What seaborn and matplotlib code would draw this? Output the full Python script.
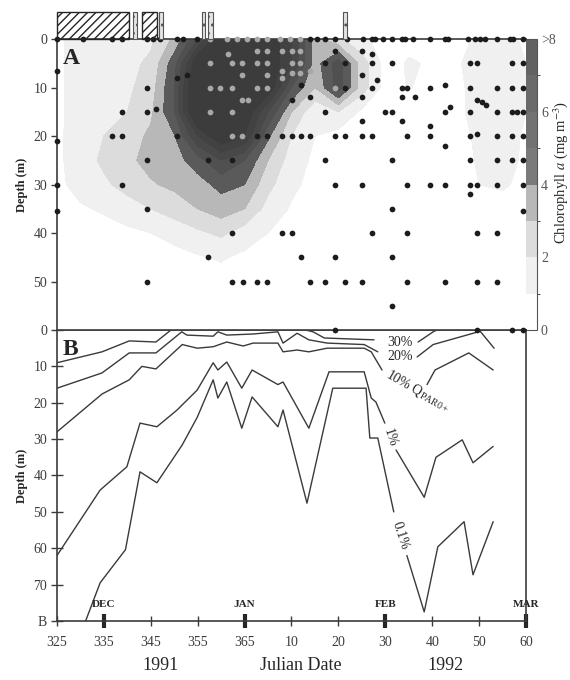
import numpy as np
import pandas as pd
import matplotlib
matplotlib.use("Agg")
import matplotlib.pyplot as plt
import matplotlib.transforms as mtransforms
from matplotlib.colors import ListedColormap, BoundaryNorm
from matplotlib.cm import ScalarMappable
from matplotlib.patches import Rectangle
import seaborn as sns

# ---------------- data ----------------
# chlorophyll field (mg m-3) on a day x depth grid
grid_days = [325, 330, 335, 340, 345, 350, 355, 360, 365, 370, 375,
             380, 385, 390, 395, 400, 405, 410, 415, 420, 425]
grid_depths = [0, 5, 10, 15, 20, 25, 30, 35, 40, 45, 50, 55, 60]
chl_0m  = [0.8, 1.4, 1.5, 1.6, 1.8, 3.2, 6.0, 9.0, 9.0, 9.0, 7.0, 3.5, 2.2, 1.2, 0.6, 0.7, 0.8, 0.8, 1.1, 1.2, 0.9]
chl_5m  = [0.8, 1.4, 1.5, 1.7, 2.2, 4.6, 9.0, 10., 10., 9.0, 7.0, 3.5, 5.5, 2.5, 0.6, 1.1, 0.9, 0.9, 1.3, 1.4, 1.0]
chl_10m = [0.8, 1.4, 1.5, 1.8, 2.5, 5.0, 10., 10., 10., 9.0, 5.0, 3.0, 5.5, 2.5, 0.6, 1.05, 0.7, 0.8, 1.3, 1.4, 1.0]
chl_15m = [0.8, 1.4, 1.6, 2.0, 2.8, 5.0, 10., 10., 9.0, 6.0, 3.0, 1.2, 2.0, 0.8, 0.5, 0.5, 0.6, 0.8, 1.3, 1.5, 1.0]
chl_20m = [0.8, 1.5, 2.0, 2.5, 3.2, 3.9, 7.0, 9.0, 8.0, 4.2, 2.0, 1.0, 0.6, 0.5, 0.5, 0.5, 0.5, 0.6, 1.2, 1.3, 0.9]
chl_25m = [0.8, 1.5, 2.2, 2.8, 3.3, 3.6, 4.5, 6.0, 5.0, 3.0, 1.5, 0.8, 0.5, 0.5, 0.5, 0.5, 0.5, 0.6, 1.1, 1.2, 0.9]
chl_30m = [0.8, 1.3, 1.8, 2.4, 2.9, 3.2, 3.6, 4.3, 4.0, 2.3, 1.2, 0.7, 0.5, 0.5, 0.5, 0.5, 0.5, 0.5, 1.0, 1.1, 0.8]
chl_35m = [0.7, 0.9, 1.1, 1.5, 2.0, 2.5, 3.0, 3.5, 3.0, 1.6, 0.9, 0.6, 0.5, 0.5, 0.5, 0.5, 0.5, 0.5, 0.6, 0.7, 0.6]
chl_40m = [0.5, 0.6, 0.7, 0.8, 1.0, 1.3, 1.8, 2.2, 1.5, 1.0, 0.6, 0.5, 0.5, 0.5, 0.5, 0.5, 0.5, 0.5, 0.5, 0.5, 0.5]
chl_45m = [0.5, 0.5, 0.5, 0.5, 0.6, 0.7, 0.9, 1.1, 0.8, 0.6, 0.5, 0.5, 0.5, 0.5, 0.5, 0.5, 0.5, 0.5, 0.5, 0.5, 0.5]
chl_50m = [0.5, 0.5, 0.5, 0.5, 0.5, 0.5, 0.5, 0.6, 0.6, 0.7, 0.5, 0.5, 0.5, 0.5, 0.5, 0.5, 0.5, 0.5, 0.5, 0.5, 0.5]
chl_55m = [0.5, 0.5, 0.5, 0.5, 0.5, 0.5, 0.5, 0.5, 0.5, 0.5, 0.5, 0.5, 0.5, 0.5, 0.5, 0.5, 0.5, 0.5, 0.5, 0.5, 0.5]
chl_60m = [0.5, 0.5, 0.5, 0.5, 0.5, 0.5, 0.5, 0.5, 0.5, 0.5, 0.5, 0.5, 0.5, 0.5, 0.5, 0.5, 0.5, 0.5, 0.5, 0.5, 0.5]

chl_levels = [0, 1, 2, 3, 4, 5, 6, 7, 8, 100]
chl_colors = ['#ffffff', '#f0f0f0', '#dcdcdc', '#b8b8b8',
              '#5a5a5a', '#505050', '#484848', '#424242', '#3c3c3c']
cbar_colors = ['#ffffff', '#f0f0f0', '#dcdcdc', '#b8b8b8',
               '#7a7a7a', '#727272', '#6a6a6a', '#626262']
cbar_ticks = [0, 2, 4, 6, 8]
cbar_labels = ['0', '2', '4', '6', '>8']

# sampling casts (black dots): day and depths sampled
cast_days = [325.0, 336.7, 338.9, 344.2, 346.2, 350.6, 352.7, 357.3, 362.3, 364.6,
             367.6, 369.8, 373.0, 375.1, 377.0, 379.0, 382.1, 384.3, 386.4, 390.0,
             392.2, 393.2, 394.9, 396.4, 398.6, 399.6, 401.3, 404.5, 407.7, 408.8,
             413.1, 414.6, 415.6, 416.5, 418.8, 422.0, 423.1, 424.4]
cast_depths = [[6.5, 21, 30, 35.5], [20], [15, 20, 30], [10, 15, 25, 35, 50], [14.5],
               [8, 20], [7.5], [25, 45], [25, 40, 50], [50],
               [20, 50], [20, 50], [20, 40], [12.5, 20, 40], [9.5, 20, 45],
               [12, 20, 50], [5, 15, 25, 50], [2.5, 20, 30, 45, 60], [5, 10, 20, 50],
               [2.5, 7.5, 12, 17, 20, 30, 50],
               [3, 5, 10, 20, 40], [8.5], [15], [5, 15, 25, 35, 45, 55], [10, 12, 17],
               [10, 20, 30, 40, 50], [12], [10, 18, 20, 30], [9.5, 15, 22, 30, 50], [14],
               [5, 10, 15, 20, 25, 30, 32], [5, 12.5, 19.5, 30, 40, 50, 60], [13], [13.5],
               [10, 15, 20, 25, 30, 40, 50], [5, 10, 15, 20, 25, 60], [15],
               [5, 10, 15, 20, 25, 30, 35.5, 60]]
# samples inside the bloom (grey dots)
bloom_days = [357.6, 359.8, 361.5, 362.3, 364.4, 365.7, 367.6, 369.8, 373.0, 375.1,
              376.9, 378.9, 384.3]
bloom_depths = [[5, 10, 15], [10], [3], [5, 10, 15, 20], [5, 7.5, 12.5, 20], [12.5],
                [2.5, 5, 10], [2.5, 5, 7.5, 10], [2.5, 6.5, 8], [2.5, 5, 7],
                [2.5, 5, 7], [6.5], [10]]
# surface samples
surface_days = [325, 330.5, 336.7, 338.9, 344.2, 345.5, 347, 350.6, 351.9, 354.9,
                378.9, 380.4, 382.1, 384.3, 386.8, 390.2, 392.2, 392.8, 394.5, 396.4,
                398.6, 399.2, 400.9, 404.5, 407.7, 408.4, 412.6, 414.1, 415.2, 416.3,
                418.8, 421.6, 422.2, 424.4]
surface_bloom_days = [357.6, 361.2, 363.4, 365.5, 367.6, 369.8, 372.5, 374.7, 376.8]

# ice / event bars above panel A
ice_start = [325.0, 343.1]
ice_end = [340.4, 346.3]
event_start = [341.2, 346.7, 355.9, 357.2, 386.0]
event_end = [342.1, 347.6, 356.6, 358.3, 386.8]

# light-level isolines (depth of % surface PAR); None = gap
q30_days = [325, 334.6, 340.4, 346.1, 349.3, None, 378.0, 379.6, 382.0, 392.6, None, 402.0, 405.2, 406.0]
q30_depth = [9, 6, 3, 3.3, 0, None, 0, 0.5, 2.2, 2.7, None, 3.3, 0.5, 0]
q20_days = [325, 334.6, 340.4, 346.1, 351.6, 352.7, 358.3, 359.3, 361.2, 366.8, 372.1, 373.2,
            376.2, 378.7, 382.6, 390.5, 393.4, None, 401.8, 405.2, 414.0, 415.2, 418.2]
q20_depth = [16, 11.8, 6.3, 6.3, 0.5, 1.4, 1.7, 0.5, 1.4, 1.1, 0.5, 3.6,
             0.9, 2.7, 3.6, 4.0, 6.0, None, 7.4, 4.0, 0.8, 0.3, 5.0]
q10_days = [325, 334.6, 340.4, 343.1, 346.1, 351.7, 354.9, 358.3, 361.2, 364.7, 366.8, 372.1,
            373.2, 376.2, 378.7, 382.6, 390.5, 392.0, 394.3, None, 403.9, 405.6, 412.8, 418.0]
q10_depth = [28, 17.6, 13.7, 10, 10.7, 4, 5, 4.6, 3.3, 4.4, 3.6, 3.6,
             6, 5.5, 6, 5, 5, 6, 11, None, 15, 11, 6.3, 11]
q1_days = [325, 334.2, 339.9, 342.7, 346.3, 350.6, 354.9, 358.3, 359.3, 361.2, 364.4, 366.6,
           372.1, 373.2, 378.7, 383.0, 390.5, 392.0, 393.0, 394.9, None, 397.3, 403.3,
           405.8, 411.4, 413.7, 418.0]
q1_depth = [62, 44, 37.6, 25.6, 26.6, 22, 16.5, 9, 11, 8.8, 16, 11,
            15, 14.3, 27, 11.5, 11.5, 18.7, 19.8, 25.6, None, 33, 46,
            35, 30.2, 36.5, 32]
q01_days = [331.1, 334.2, 339.6, 342.7, 346.3, 351.7, 354.9, 358.3, 359.3, 361.2, 364.4, 366.6,
            372.1, 373.2, 378.3, 383.8, 390.9, 391.7, 393.4, 396.8, None, 399.6, 403.3,
            406.2, 411.8, 413.7, 418.0]
q01_depth = [80, 69.5, 60.4, 39, 42, 31.6, 24, 13.7, 18.7, 14.3, 27, 18.4,
             26.6, 22, 47.6, 16, 16, 29.7, 29.7, 50, None, 62, 77.5,
             59.6, 52.7, 67.3, 52.7]

# axis ticks
month_ticks = [335, 365, 395, 425]
month_tick_labels = ['335', '365', '30', '60']
other_ticks = [325, 345, 355, 375, 385, 405, 415]
other_tick_labels = ['325', '345', '355', '10', '20', '40', '50']
month_names = ['DEC', 'JAN', 'FEB', 'MAR']
depth_ticks_a = [0, 10, 20, 30, 40, 50]
depth_ticks_b = [0, 10, 20, 30, 40, 50, 60, 70, 80]
depth_labels_b = ['0', '10', '20', '30', '40', '50', '60', '70', 'B']

# ---------------- style ----------------
sns.set_style('ticks')
plt.rcParams['font.family'] = ['Liberation Serif', 'DejaVu Serif']
plt.rcParams['mathtext.fontset'] = 'stix'
plt.rcParams['hatch.linewidth'] = 1.0
ink = '#262626'
tick_col = '#3c3c3c'

fig = plt.figure(figsize=(5.7, 6.8), dpi=100)
ax_a = fig.add_axes([0.1, 0.5147, 0.8228, 0.4279])
ax_b = fig.add_axes([0.1, 0.0868, 0.8228, 0.4279])
cax = fig.add_axes([0.919, 0.5147, 0.0228, 0.4279])
ax_a.set_zorder(3)
ax_b.set_zorder(2)
cax.set_zorder(1)

# ---------------- panel A ----------------
chl = np.array([chl_0m, chl_5m, chl_10m, chl_15m, chl_20m, chl_25m, chl_30m,
                chl_35m, chl_40m, chl_45m, chl_50m, chl_55m, chl_60m])
X, Y = np.meshgrid(grid_days, grid_depths)
ax_a.contourf(X, Y, chl, levels=chl_levels, colors=chl_colors, zorder=1)

black_df = pd.DataFrame(
    [(d, z) for d, zs in zip(cast_days, cast_depths) for z in zs] +
    [(d, 0.0) for d in surface_days], columns=['day', 'depth'])
grey_df = pd.DataFrame(
    [(d, z) for d, zs in zip(bloom_days, bloom_depths) for z in zs] +
    [(d, 0.0) for d in surface_bloom_days], columns=['day', 'depth'])
sns.scatterplot(data=black_df, x='day', y='depth', ax=ax_a, color='#1c1c1c',
                s=17, linewidth=0, clip_on=False, zorder=5)
sns.scatterplot(data=grey_df, x='day', y='depth', ax=ax_a, color='#a8a8a8',
                s=17, linewidth=0, clip_on=False, zorder=5)

ax_a.set_xlim(325, 425)
ax_a.set_ylim(60, 0)
ax_a.set_xlabel('')
ax_a.set_ylabel('Depth (m)', fontsize=9, fontweight='bold', labelpad=4)
ax_a.set_yticks(depth_ticks_a)
ax_a.tick_params(axis='y', direction='inout', length=8, width=1, labelsize=10,
                 colors=tick_col, labelcolor=tick_col, pad=3)
ax_a.set_xticks(month_ticks[:3])
ax_a.tick_params(axis='x', direction='in', length=10, width=3, color=ink,
                 labelbottom=False, bottom=True, top=False)
for side in ['left', 'top', 'bottom']:
    ax_a.spines[side].set_color(tick_col)
    ax_a.spines[side].set_linewidth(1.2)
ax_a.spines['right'].set_visible(False)
ax_a.text(0.012, 0.968, 'A', transform=ax_a.transAxes, ha='left', va='top',
          fontsize=17, fontweight='bold', color=ink, zorder=6)

# ice cover and event bars above panel A
blend = mtransforms.blended_transform_factory(ax_a.transData, ax_a.transAxes)
for s, e in zip(ice_start, ice_end):
    ax_a.add_patch(Rectangle((s, 1.0), e - s, 0.093, transform=blend, fill=False,
                             hatch='////', edgecolor=ink, lw=1.0, clip_on=False, zorder=6))
for s, e in zip(event_start, event_end):
    ax_a.add_patch(Rectangle((s, 1.0), e - s, 0.093, transform=blend, facecolor='#e4e4e4',
                             hatch='..', edgecolor='#555555', lw=0.8, clip_on=False, zorder=6))

# colour bar
cmap = ListedColormap(cbar_colors)
norm = BoundaryNorm(chl_levels[:9], cmap.N)
cb = fig.colorbar(ScalarMappable(norm=norm, cmap=cmap), cax=cax, ticks=cbar_ticks)
cax.set_yticklabels(cbar_labels)
cax.tick_params(length=0, labelsize=10, labelcolor='#555555', pad=3)
cb.outline.set_edgecolor('#555555')
cb.outline.set_linewidth(0.8)
fig.text(0.984, 0.746, 'Chlorophyll $a$ (mg m$^{-3}$)', rotation=90, ha='center',
         va='center', fontsize=10.5, color=ink)

# ---------------- panel B ----------------
rows = []
for name, days, depths in [('q30', q30_days, q30_depth), ('q20', q20_days, q20_depth),
                           ('q10', q10_days, q10_depth), ('q1', q1_days, q1_depth),
                           ('q01', q01_days, q01_depth)]:
    seg = 0
    for d, z in zip(days, depths):
        if d is None:
            seg += 1
            continue
        rows.append((d, z, f'{name}-{seg}'))
light_df = pd.DataFrame(rows, columns=['day', 'depth', 'seg'])
sns.lineplot(data=light_df, x='day', y='depth', units='seg', estimator=None, sort=False,
             color='#3a3a3a', lw=1.0, ax=ax_b, legend=False)

ax_b.set_xlim(325, 425)
ax_b.set_ylim(80, 0)
ax_b.set_ylabel('Depth (m)', fontsize=9, fontweight='bold', labelpad=4)
ax_b.set_xlabel('')
ax_b.set_yticks(depth_ticks_b, labels=depth_labels_b)
ax_b.tick_params(axis='y', direction='inout', length=8, width=1, labelsize=10,
                 colors=tick_col, labelcolor=tick_col, pad=3)
ax_b.set_xticks(month_ticks, labels=month_tick_labels)
ax_b.set_xticks(other_ticks, labels=other_tick_labels, minor=True)
ax_b.tick_params(axis='x', which='major', direction='inout', length=10, width=3,
                 color=ink, labelsize=10, labelcolor=tick_col, pad=6)
ax_b.tick_params(axis='x', which='minor', direction='inout', length=7, width=1,
                 color=tick_col, labelsize=10, labelcolor=tick_col, pad=7.5)
for side in ['left', 'top', 'bottom', 'right']:
    ax_b.spines[side].set_color(tick_col)
    ax_b.spines[side].set_linewidth(1.2)
ax_b.text(0.012, 0.968, 'B', transform=ax_b.transAxes, ha='left', va='top',
          fontsize=17, fontweight='bold', color=ink)

for m, name in zip(month_ticks, month_names):
    ax_b.text(m, 75.5, name, ha='center', va='center', fontsize=8, fontweight='bold',
              color=ink)

lab = dict(color=ink, fontsize=10)
ax_b.text(398.2, 3.3, '30%', ha='center', va='center', **lab)
ax_b.text(398.2, 7.4, '20%', ha='center', va='center', **lab)
ax_b.text(395.4, 11.8, r'10% Q$_{\mathregular{PAR0+}}$', ha='left', va='center',
          rotation=-30, rotation_mode='anchor', **lab)
ax_b.text(396.0, 29.5, '1%', ha='center', va='center', rotation=-72, **lab)
ax_b.text(398.3, 56.5, '0.1%', ha='center', va='center', rotation=-72, **lab)

fig.text(0.281, 0.022, '1991', ha='center', va='center', fontsize=13, color=ink)
fig.text(0.527, 0.022, 'Julian Date', ha='center', va='center', fontsize=13, color=ink)
fig.text(0.781, 0.022, '1992', ha='center', va='center', fontsize=13, color=ink)

fig.savefig('out.png', dpi=100)
